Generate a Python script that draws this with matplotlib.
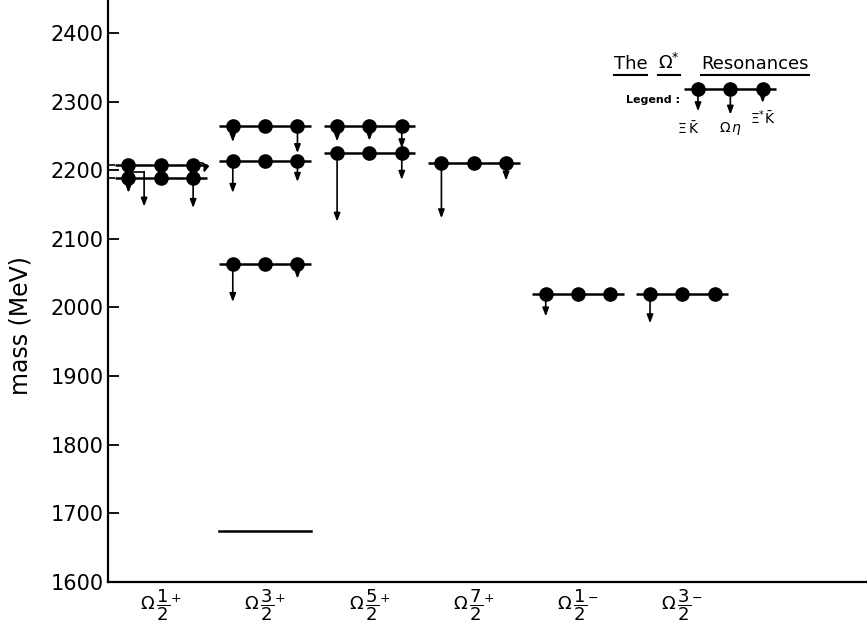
import matplotlib.pyplot as plt
import numpy as np

# categories on the x axis
cat_labels = [r'$\Omega\,\dfrac{1}{2}^{+}$', r'$\Omega\,\dfrac{3}{2}^{+}$', r'$\Omega\,\dfrac{5}{2}^{+}$',
              r'$\Omega\,\dfrac{7}{2}^{+}$', r'$\Omega\,\dfrac{1}{2}^{-}$', r'$\Omega\,\dfrac{3}{2}^{-}$']
cat_pos = [1, 2, 3, 4, 5, 6]

# states: category, mass (MeV)
state_cat = [1, 1, 2, 2, 2, 3, 3, 4, 5, 6]
state_mass = [2208, 2189, 2265, 2214, 2063, 2265, 2225, 2210, 2019, 2019]
# arrow lengths (MeV) for the three channels: Xi Kbar, Omega eta, Xi* Kbar
width_xk = [61, 22, 24, 47, 55, 23, 100, 80, 32, 42]
width_oeta = [0, 0, 0, 0, 0, 22, 0, 0, 0, 0]
width_xsk = [12, 44, 40, 31, 21, 33, 39, 25, 0, 0]

# level without decay info
bare_cat = [2]
bare_mass = [1674]

# legend example level
leg_cat = 6.46
leg_mass = 2318
leg_width = [32, 37, 20]

yticks = [1600, 1700, 1800, 1900, 2000, 2100, 2200, 2300, 2400]

DX = 0.31   # dot offset
HL = 0.44   # half length of level line
ASTYLE = '-|>,head_length=0.45,head_width=0.17'

fig = plt.figure(figsize=(8.67, 6.25), dpi=100)
ax = fig.add_axes([0.1246, 0.0688, 0.8754, 0.9312])
ax.set_xlim(0.494, 7.77)
ax.set_ylim(1600, 2448)


def arrow(x, y0, y1, ax=ax):
    ax.annotate('', xy=(x, y1), xytext=(x, y0),
                arrowprops=dict(arrowstyle=ASTYLE, lw=1.2, color='k',
                                mutation_scale=11, shrinkA=0, shrinkB=0),
                zorder=2)


def level(c, m, widths, skip=()):
    ax.plot([c - HL, c + HL], [m, m], color='k', lw=1.8, zorder=3, solid_capstyle='butt')
    xs = [c - DX, c, c + DX]
    ax.plot(xs, [m] * 3, 'o', color='k', ms=9.5, zorder=4)
    for i, (x, w) in enumerate(zip(xs, widths)):
        if w > 0 and i not in skip:
            arrow(x, m, m - w)


for i in range(len(state_cat)):
    level(state_cat[i], state_mass[i], [width_xk[i], width_oeta[i], width_xsk[i]],
          skip=(0, 2) if i == 0 else ())

# first state: Xi Kbar arrow drawn with an elbow, Xi* Kbar a small curl
c0, m0 = state_cat[0], state_mass[0]
ax.plot([c0 - DX, c0 - DX, c0 - DX + 0.15], [m0, m0 - 10, m0 - 10], color='k', lw=1.2, zorder=2)
arrow(c0 - DX + 0.15, m0 - 10, m0 - width_xk[0])
ax.annotate('', xy=(c0 + DX + 0.1, m0 - width_xsk[0]), xytext=(c0 + DX + 0.02, m0 + 2),
            arrowprops=dict(arrowstyle=ASTYLE, lw=1.2, color='k', mutation_scale=9,
                            shrinkA=0, shrinkB=0, connectionstyle='arc3,rad=-0.9'),
            zorder=5)

for c, m in zip(bare_cat, bare_mass):
    ax.plot([c - HL, c + HL], [m, m], color='k', lw=1.8)

# legend
level(leg_cat, leg_mass, leg_width)
ax.text(leg_cat - DX - 0.09, leg_mass - 57, r'$\Xi\,\bar{\mathrm{K}}$', fontsize=10, ha='center', va='center')
ax.text(leg_cat, leg_mass - 57, r'$\Omega\,\eta$', fontsize=10, ha='center', va='center')
ax.text(leg_cat + DX, leg_mass - 42, r'$\Xi^{*}\bar{\mathrm{K}}$', fontsize=10, ha='center', va='center')
ax.text(5.456, leg_mass - 16, 'Legend :', fontsize=8, fontweight='bold', ha='left', va='center')

title_parts = [('The', 5.34), (r'$\Omega^{*}$', 5.77), ('Resonances', 6.18)]
title_txt = []
for s, x in title_parts:
    title_txt.append(ax.text(x, 2348, s, fontsize=13, ha='left', va='baseline'))
fig.canvas.draw()
inv = ax.transData.inverted()
for t in title_txt:
    bb = t.get_window_extent()
    x0 = inv.transform((bb.x0, bb.y0))[0]
    x1 = inv.transform((bb.x1, bb.y0))[0]
    ax.plot([x0, x1], [2338, 2338], color='k', lw=1.5)

# axes styling
for s in ['top', 'right']:
    ax.spines[s].set_visible(False)
ax.spines['left'].set_linewidth(1.6)
ax.spines['bottom'].set_linewidth(1.6)
ax.set_yticks(yticks)
ax.set_yticklabels([str(v) for v in yticks], fontsize=15)
ax.set_yticks([2189, 2208], minor=True)
ax.tick_params(axis='y', which='major', direction='in', length=8, width=1.3, pad=3)
ax.tick_params(axis='y', which='minor', direction='in', length=5, width=1.2)
ax.set_xticks(cat_pos)
ax.set_xticklabels(cat_labels, fontsize=13)
ax.tick_params(axis='x', length=0, pad=4)
ax.set_ylabel('mass (MeV)', fontsize=17)
ax.yaxis.set_label_coords(-0.10, 0.44)

plt.savefig('out.png', dpi=100)
plt.close()
